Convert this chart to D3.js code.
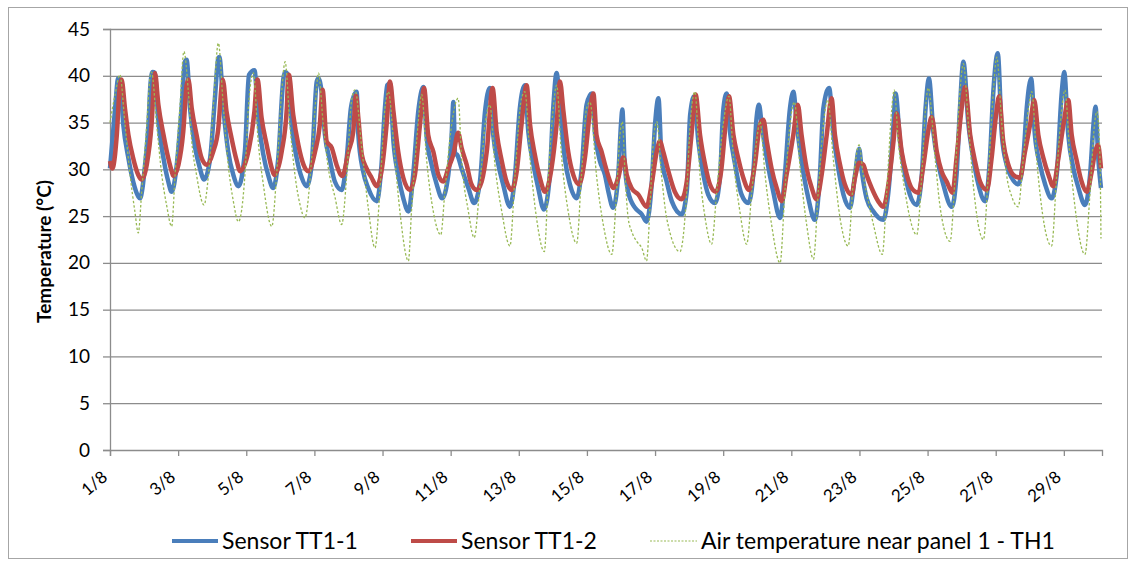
<!DOCTYPE html>
<html>
<head>
<meta charset="utf-8">
<script src="https://cdn.jsdelivr.net/npm/d3@7"></script>
<style>
  body { margin: 0; background: #fff; }
  text { font-family: Lato, 'Open Sans', sans-serif; fill: #000; }
</style>
</head>
<body>
<svg id="chart" width="1135" height="566"></svg>
<script>
// time = days since 1/8 00:00, value = temperature in °C
const dayLabels = ['1/8', '3/8', '5/8', '7/8', '9/8', '11/8', '13/8', '15/8',
  '17/8', '19/8', '21/8', '23/8', '25/8', '27/8', '29/8'];
const dayTicks = [0, 2, 4, 6, 8, 10, 12, 14, 16, 18, 20, 22, 24, 26, 28];
const yTicks = [0, 5, 10, 15, 20, 25, 30, 35, 40, 45];
const seriesNames = ['Sensor TT1-1', 'Sensor TT1-2', 'Air temperature near panel 1 - TH1'];

const sensor1 = [
  [0.00, 30.1], [0.15, 36.5], [0.24, 39.7], [0.29, 39.6], [0.39, 34.8], [0.54, 31.2], [0.68, 28.7], [0.83, 27.1], [0.88, 26.9],
  [1.03, 30.5], [1.13, 34.8], [1.19, 39.2], [1.25, 40.4], [1.32, 40.3], [1.42, 35.1], [1.57, 31.2], [1.71, 28.7], [1.81, 27.6],
  [1.96, 30.5], [2.10, 36.5], [2.20, 41.5], [2.25, 41.7], [2.35, 36.5], [2.50, 32.3], [2.64, 30.1], [2.76, 28.9],
  [2.94, 31.2], [3.08, 37.6], [3.18, 41.9], [3.21, 42.0], [3.33, 36.5], [3.47, 31.9], [3.62, 29.4], [3.77, 28.2],
  [3.96, 31.9], [4.08, 40.1], [4.24, 40.6], [4.35, 35.5], [4.50, 31.6], [4.65, 29.3], [4.79, 28.0],
  [4.94, 31.2], [5.09, 39.7], [5.14, 40.4], [5.22, 40.1], [5.33, 34.8], [5.48, 31.2], [5.63, 29.1], [5.77, 28.2],
  [5.92, 30.5], [6.07, 39.4], [6.12, 39.7], [6.21, 38.3], [6.31, 33.7], [6.46, 30.9], [6.60, 28.7], [6.80, 27.8],
  [6.95, 31.2], [7.07, 36.5], [7.19, 38.1], [7.24, 38.3], [7.29, 33.7], [7.43, 29.8], [7.58, 28.0], [7.83, 26.6],
  [7.97, 30.5], [8.07, 36.5], [8.14, 39.0], [8.22, 39.2], [8.32, 33.0], [8.46, 29.4], [8.61, 26.9], [8.76, 25.5],
  [8.90, 29.4], [9.05, 36.2], [9.20, 38.8], [9.29, 33.7], [9.44, 30.5], [9.59, 28.4], [9.75, 26.9],
  [9.93, 29.4], [10.03, 33.7], [10.08, 37.2], [10.13, 31.6], [10.17, 31.6], [10.32, 30.1], [10.52, 28.0], [10.69, 26.4],
  [10.86, 28.7], [11.01, 36.2], [11.15, 38.7], [11.25, 33.7], [11.40, 30.5], [11.54, 28.4], [11.74, 26.0],
  [11.89, 29.4], [12.03, 36.5], [12.18, 39.0], [12.28, 34.0], [12.43, 30.5], [12.57, 28.0], [12.74, 25.7],
  [12.91, 29.4], [13.01, 36.5], [13.11, 40.3], [13.21, 36.5], [13.35, 31.2], [13.50, 28.4], [13.70, 26.9],
  [13.84, 29.8], [13.99, 36.9], [14.14, 38.1], [14.24, 33.7], [14.38, 30.9], [14.53, 29.4], [14.63, 27.6], [14.77, 25.9],
  [14.92, 29.4], [15.00, 34.8], [15.04, 36.4], [15.10, 31.2], [15.21, 27.6], [15.41, 25.9], [15.61, 25.2], [15.75, 24.4],
  [15.90, 28.4], [16.00, 34.8], [16.10, 37.6], [16.19, 31.2], [16.34, 28.7], [16.49, 26.6], [16.78, 25.2],
  [16.93, 27.6], [17.03, 35.8], [17.15, 37.8], [17.27, 33.0], [17.42, 29.4], [17.56, 27.3], [17.76, 26.4],
  [17.91, 29.4], [18.00, 36.2], [18.10, 38.1], [18.20, 34.0], [18.35, 30.5], [18.54, 27.3], [18.74, 26.4],
  [18.88, 29.4], [18.98, 35.5], [19.05, 36.9], [19.13, 34.8], [19.28, 31.2], [19.47, 27.6], [19.67, 24.8],
  [19.81, 29.4], [19.96, 36.5], [20.06, 38.3], [20.16, 34.8], [20.30, 30.9], [20.50, 26.9], [20.69, 24.6],
  [20.84, 29.4], [20.94, 36.5], [21.11, 38.7], [21.23, 34.0], [21.38, 30.1], [21.53, 27.3], [21.72, 25.9],
  [21.87, 29.4], [21.99, 32.2], [22.07, 29.8], [22.21, 26.9], [22.41, 25.5], [22.70, 24.6],
  [22.85, 27.6], [23.00, 34.8], [23.06, 38.1], [23.19, 33.0], [23.34, 29.4], [23.48, 27.3], [23.68, 26.2],
  [23.83, 29.4], [23.94, 36.5], [24.04, 39.7], [24.17, 34.0], [24.32, 30.5], [24.46, 28.4], [24.71, 26.0],
  [24.85, 29.4], [24.95, 36.5], [25.05, 41.5], [25.20, 34.8], [25.34, 31.2], [25.49, 28.4], [25.69, 26.6],
  [25.83, 31.2], [25.93, 38.3], [26.06, 42.4], [26.18, 33.7], [26.32, 30.5], [26.47, 29.1], [26.66, 28.4],
  [26.81, 31.2], [26.91, 36.5], [27.04, 39.7], [27.15, 33.7], [27.30, 30.5], [27.45, 28.4], [27.64, 26.9],
  [27.79, 29.4], [27.94, 38.3], [28.01, 40.4], [28.13, 33.7], [28.28, 30.1], [28.43, 28.0], [28.62, 26.2],
  [28.77, 29.4], [28.87, 34.8], [28.93, 36.7], [29.01, 31.2], [29.09, 28.0]
];

const sensor2 = [
  [0.00, 30.9], [0.07, 30.1], [0.20, 33.7], [0.29, 39.0], [0.34, 39.6], [0.44, 36.5], [0.54, 33.7], [0.68, 31.2], [0.83, 29.4], [0.93, 28.9],
  [1.08, 30.5], [1.22, 34.8], [1.30, 39.7], [1.32, 40.3], [1.42, 36.9], [1.57, 33.7], [1.71, 31.2], [1.81, 29.8], [1.86, 29.3],
  [2.01, 30.5], [2.15, 34.0], [2.25, 39.0], [2.30, 39.6], [2.40, 36.5], [2.54, 33.7], [2.69, 31.2], [2.84, 30.5],
  [3.03, 31.9], [3.18, 34.4], [3.28, 39.0], [3.31, 39.6], [3.42, 36.2], [3.57, 33.3], [3.72, 30.9], [3.82, 29.8],
  [4.06, 31.9], [4.24, 36.2], [4.31, 39.4], [4.33, 39.6], [4.45, 35.5], [4.60, 32.6], [4.75, 30.1], [4.82, 29.4],
  [5.04, 31.9], [5.19, 36.5], [5.23, 39.9], [5.25, 40.1], [5.38, 35.8], [5.53, 32.6], [5.68, 30.5], [5.82, 29.8],
  [6.02, 31.9], [6.16, 34.8], [6.24, 38.5], [6.36, 33.0], [6.51, 32.3], [6.65, 30.5], [6.82, 29.3],
  [7.00, 31.9], [7.14, 34.0], [7.22, 37.9], [7.29, 35.5], [7.39, 31.6], [7.53, 30.1], [7.68, 29.1], [7.83, 28.2],
  [7.97, 29.8], [8.12, 34.8], [8.22, 39.4], [8.32, 36.2], [8.46, 31.9], [8.61, 29.1], [8.80, 27.8],
  [8.95, 29.4], [9.10, 34.8], [9.22, 38.7], [9.34, 33.7], [9.49, 31.9], [9.64, 29.4], [9.78, 28.7],
  [9.93, 30.1], [10.08, 31.6], [10.22, 33.9], [10.32, 32.3], [10.47, 30.5], [10.61, 28.4], [10.76, 27.8],
  [10.91, 28.7], [11.06, 31.9], [11.23, 38.7], [11.35, 34.0], [11.50, 30.9], [11.64, 28.7], [11.79, 27.8],
  [11.94, 29.8], [12.08, 34.8], [12.23, 39.0], [12.33, 34.8], [12.47, 31.6], [12.62, 29.1], [12.77, 27.6],
  [12.96, 30.1], [13.11, 34.8], [13.21, 39.4], [13.31, 36.2], [13.45, 31.9], [13.60, 29.4], [13.77, 28.4],
  [13.94, 31.2], [14.09, 36.2], [14.19, 38.1], [14.28, 33.7], [14.43, 31.9], [14.53, 30.5], [14.68, 28.7], [14.77, 28.0],
  [14.92, 29.1], [15.07, 31.3], [15.17, 29.4], [15.31, 28.0], [15.51, 27.3], [15.75, 26.0],
  [15.90, 28.4], [16.05, 31.9], [16.14, 33.0], [16.24, 31.9], [16.39, 29.8], [16.58, 27.6], [16.78, 26.8],
  [16.93, 28.7], [17.07, 33.7], [17.19, 38.0], [17.32, 33.7], [17.47, 30.5], [17.61, 28.4], [17.78, 27.6],
  [17.95, 30.1], [18.07, 34.8], [18.17, 37.8], [18.30, 33.7], [18.44, 31.2], [18.59, 29.1], [18.76, 27.8],
  [18.93, 30.5], [19.08, 34.8], [19.18, 35.3], [19.28, 33.0], [19.42, 30.1], [19.57, 28.0], [19.72, 26.6],
  [19.86, 29.4], [20.06, 33.7], [20.19, 36.9], [20.30, 33.7], [20.45, 30.1], [20.60, 28.0], [20.74, 26.8],
  [20.89, 29.4], [21.04, 33.7], [21.18, 37.6], [21.28, 33.7], [21.43, 30.5], [21.57, 28.4], [21.77, 27.3],
  [21.87, 29.1], [21.99, 30.7], [22.11, 30.5], [22.21, 29.4], [22.36, 28.0], [22.55, 26.6], [22.70, 26.0],
  [22.85, 28.4], [23.00, 33.0], [23.09, 36.0], [23.24, 31.9], [23.39, 29.4], [23.53, 28.0], [23.73, 27.5],
  [23.88, 30.5], [24.02, 34.1], [24.12, 35.6], [24.27, 31.9], [24.41, 29.8], [24.56, 28.7], [24.73, 27.5],
  [24.85, 31.2], [25.00, 36.5], [25.10, 38.8], [25.25, 33.7], [25.39, 30.9], [25.54, 28.7], [25.74, 27.8],
  [25.88, 31.2], [26.00, 35.5], [26.10, 37.8], [26.22, 33.0], [26.37, 30.5], [26.52, 29.4], [26.71, 29.1],
  [26.86, 31.9], [27.01, 34.8], [27.13, 37.4], [27.25, 33.7], [27.40, 31.2], [27.55, 29.4], [27.69, 28.2],
  [27.84, 31.2], [27.99, 34.8], [28.13, 37.4], [28.23, 33.7], [28.38, 30.9], [28.52, 28.7], [28.67, 27.6],
  [28.82, 29.8], [28.92, 31.9], [29.00, 32.6], [29.09, 30.1]
];

const airTemp = [
  [0.00, 35.0], [0.15, 38.0], [0.29, 40.1], [0.44, 34.8], [0.59, 29.4], [0.73, 25.5], [0.83, 23.2],
  [0.93, 27.6], [1.08, 34.8], [1.17, 39.7], [1.22, 40.4], [1.37, 34.8], [1.52, 29.4], [1.66, 26.2], [1.81, 23.9],
  [1.91, 29.4], [2.05, 36.5], [2.17, 42.6], [2.30, 38.3], [2.40, 33.0], [2.54, 29.4], [2.76, 26.2],
  [2.89, 29.4], [3.03, 36.5], [3.18, 43.5], [3.33, 36.5], [3.47, 30.5], [3.62, 26.6], [3.77, 24.4],
  [3.96, 29.4], [4.06, 36.5], [4.21, 40.3], [4.35, 33.0], [4.50, 28.4], [4.75, 23.9],
  [4.89, 29.4], [5.04, 38.3], [5.14, 41.5], [5.28, 34.8], [5.43, 29.4], [5.58, 26.2], [5.72, 24.8],
  [5.92, 31.2], [6.02, 36.5], [6.12, 40.3], [6.26, 34.8], [6.41, 30.1], [6.60, 27.1], [6.80, 24.1],
  [6.95, 29.4], [7.09, 37.3], [7.19, 38.5], [7.39, 32.3], [7.58, 25.9], [7.78, 21.6],
  [7.92, 27.6], [8.07, 36.5], [8.17, 38.3], [8.36, 31.2], [8.51, 25.5], [8.76, 20.2],
  [8.85, 25.5], [9.00, 33.0], [9.15, 38.0], [9.29, 31.2], [9.49, 25.5], [9.71, 23.0],
  [9.83, 27.6], [10.03, 34.8], [10.22, 37.6], [10.32, 31.2], [10.52, 25.5], [10.69, 22.7],
  [10.86, 28.4], [11.01, 34.8], [11.15, 36.9], [11.30, 30.5], [11.50, 25.5], [11.74, 21.8],
  [11.89, 29.4], [12.08, 37.6], [12.18, 38.3], [12.33, 31.2], [12.52, 24.8], [12.75, 21.2],
  [12.87, 29.4], [13.01, 36.5], [13.11, 39.0], [13.26, 31.2], [13.45, 25.5], [13.70, 22.1],
  [13.84, 29.4], [13.99, 36.5], [14.09, 37.2], [14.28, 29.4], [14.48, 24.1], [14.73, 20.9],
  [14.87, 27.6], [14.97, 33.7], [15.04, 35.1], [15.12, 29.4], [15.21, 24.8], [15.31, 23.4], [15.46, 22.3], [15.61, 21.6], [15.75, 20.2],
  [15.85, 25.9], [15.95, 33.0], [16.05, 35.1], [16.19, 29.4], [16.34, 24.8], [16.73, 21.2],
  [16.93, 27.6], [17.03, 34.8], [17.17, 38.3], [17.32, 29.4], [17.47, 24.8], [17.66, 22.0],
  [17.81, 27.6], [18.00, 34.8], [18.17, 37.8], [18.30, 31.2], [18.49, 25.5], [18.69, 22.0],
  [18.84, 27.6], [18.98, 33.0], [19.08, 35.1], [19.23, 29.4], [19.42, 24.1], [19.67, 20.0],
  [19.81, 27.6], [19.96, 34.8], [20.09, 37.2], [20.25, 30.5], [20.45, 24.1], [20.65, 20.4],
  [20.79, 27.6], [20.94, 34.8], [21.07, 37.4], [21.23, 31.2], [21.43, 24.8], [21.67, 21.8],
  [21.82, 28.7], [21.99, 32.6], [22.11, 29.4], [22.26, 26.6], [22.41, 24.1], [22.67, 20.9],
  [22.80, 27.6], [22.95, 36.5], [23.02, 38.5], [23.14, 33.0], [23.34, 27.6], [23.48, 24.8], [23.68, 23.0],
  [23.83, 29.4], [23.94, 36.5], [24.02, 38.7], [24.22, 31.2], [24.37, 25.9], [24.66, 22.3],
  [24.81, 29.4], [24.95, 38.3], [25.05, 41.3], [25.20, 34.8], [25.34, 28.4], [25.64, 22.5],
  [25.78, 29.4], [25.93, 38.3], [26.03, 42.0], [26.18, 34.8], [26.32, 29.4], [26.47, 27.1], [26.66, 26.0],
  [26.81, 31.2], [26.96, 36.5], [27.06, 38.3], [27.20, 31.2], [27.35, 25.9], [27.64, 21.8],
  [27.79, 29.4], [27.94, 36.5], [28.03, 38.5], [28.18, 31.2], [28.33, 25.9], [28.62, 20.9],
  [28.77, 27.6], [28.90, 34.8], [28.97, 36.2], [29.06, 31.2], [29.09, 22.6]
];

const colors = ['#4a7ebb', '#be4b48', '#98b954'];

const svg = d3.select('#chart');
const margin = { left: 110, right: 33, top: 29, bottom: 116 };
const width = 1135, height = 566;
const plotW = width - margin.left - margin.right;
const plotH = height - margin.top - margin.bottom;

// chart border
svg.append('rect')
  .attr('x', 8.5).attr('y', 7.5)
  .attr('width', 1119).attr('height', 551)
  .attr('fill', 'none').attr('stroke', '#a6a6a6').attr('stroke-width', 1);

const x = d3.scaleLinear().domain([0, 29.12]).range([margin.left, margin.left + plotW]);
const y = d3.scaleLinear().domain([0, 45]).range([margin.top + plotH, margin.top]);

// gridlines
svg.append('g')
  .attr('transform', `translate(${margin.left},0)`)
  .call(d3.axisLeft(y).tickValues(yTicks.slice(1)).tickSize(-plotW).tickFormat(''))
  .call((g) => g.select('.domain').remove())
  .call((g) => g.selectAll('line').attr('stroke', '#8c8c8c').attr('stroke-width', 1.3));

// y axis
svg.append('g')
  .attr('transform', `translate(${margin.left},0)`)
  .call(d3.axisLeft(y).tickValues(yTicks).tickSize(7).tickPadding(13))
  .call((g) => g.select('.domain').attr('stroke', '#8c8c8c').attr('stroke-width', 1.3))
  .call((g) => g.selectAll('line').attr('stroke', '#8c8c8c').attr('stroke-width', 1.3))
  .call((g) => g.selectAll('text').attr('font-size', 19).attr('font-family', 'Lato'));

// x axis
const xAxis = svg.append('g')
  .attr('transform', `translate(0,${margin.top + plotH})`)
  .call(d3.axisBottom(x).tickValues(dayTicks).tickSize(6).tickFormat((d, i) => dayLabels[i]))
  .call((g) => g.select('.domain').attr('stroke', '#8c8c8c').attr('stroke-width', 1.3))
  .call((g) => g.selectAll('line').attr('stroke', '#8c8c8c').attr('stroke-width', 1.3));

xAxis.selectAll('text')
  .attr('font-size', 17)
  .attr('font-family', 'Lato')
  .attr('text-anchor', 'end')
  .attr('y', 0).attr('dy', 0)
  .attr('transform', 'translate(-2,29) rotate(-40)');

// y title
svg.append('text')
  .attr('transform', `translate(51,${(margin.top + plotH / 2) + 12}) rotate(-90)`)
  .attr('text-anchor', 'middle')
  .attr('font-size', 19)
  .attr('font-weight', 'bold')
  .text('Temperature (°C)');

// lines
const line = d3.line()
  .x((d) => x(d[0]))
  .y((d) => y(d[1]))
  .curve(d3.curveMonotoneX);

const plot = svg.append('g');
plot.append('path')
  .datum(sensor1)
  .attr('d', line)
  .attr('fill', 'none')
  .attr('stroke', colors[0])
  .attr('stroke-width', 4.5)
  .attr('stroke-linejoin', 'round');

plot.append('path')
  .datum(sensor2)
  .attr('d', line)
  .attr('fill', 'none')
  .attr('stroke', colors[1])
  .attr('stroke-width', 4.5)
  .attr('stroke-linejoin', 'round');

plot.append('path')
  .datum(airTemp)
  .attr('d', line)
  .attr('fill', 'none')
  .attr('stroke', colors[2])
  .attr('stroke-width', 1.3)
  .attr('stroke-dasharray', '2.5,2');

// legend
const legendItems = [
  { x: 172, w: 46, dash: null, sw: 4 },
  { x: 411, w: 46, dash: null, sw: 4 },
  { x: 650, w: 47, dash: '2,1.5', sw: 1.2 }
];
const legend = svg.append('g').attr('transform', 'translate(0,541)');
legendItems.forEach((it, i) => {
  legend.append('line')
    .attr('x1', it.x).attr('x2', it.x + it.w)
    .attr('y1', 0).attr('y2', 0)
    .attr('stroke', colors[i])
    .attr('stroke-width', it.sw)
    .attr('stroke-dasharray', it.dash);
  legend.append('text')
    .attr('x', it.x + it.w + 4)
    .attr('y', 8)
    .attr('font-size', 23)
    .text(seriesNames[i]);
});
</script>
</body>
</html>
